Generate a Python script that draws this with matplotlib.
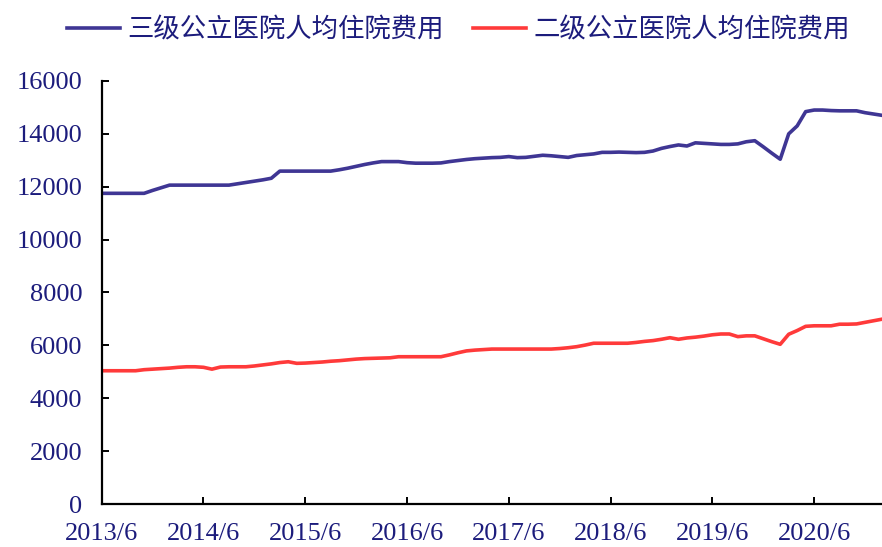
import matplotlib
matplotlib.use('Agg')
import matplotlib.pyplot as plt
import numpy as np

# 月度数据 2013/6 ~ 2021/2
tick_labels = ['2013/6', '2014/6', '2015/6', '2016/6', '2017/6', '2018/6', '2019/6', '2020/6']
series_names = ['三级公立医院人均住院费用', '二级公立医院人均住院费用']

level3 = [11750, 11750, 11750, 11750, 11750, 11750, 11860, 11960, 12060, 12060,
          12060, 12060, 12060, 12060, 12060, 12060, 12110, 12160, 12210, 12260,
          12320, 12590, 12590, 12590, 12590, 12590, 12590, 12590, 12640, 12700,
          12770, 12840, 12900, 12950, 12950, 12950, 12910, 12890, 12890, 12890,
          12900, 12950, 12990, 13030, 13060, 13080, 13100, 13110, 13140, 13100,
          13110, 13150, 13190, 13170, 13140, 13110, 13180, 13210, 13240, 13300,
          13300, 13310, 13300, 13290, 13300, 13350, 13450, 13520, 13580, 13540,
          13660, 13640, 13620, 13600, 13600, 13620, 13700, 13740, 13510, 13270,
          13040, 14000, 14300, 14840, 14900, 14900, 14880, 14870, 14870, 14870,
          14800, 14750, 14700]

level2 = [5040, 5040, 5040, 5040, 5040, 5080, 5100, 5120, 5140, 5170,
          5190, 5190, 5170, 5100, 5180, 5190, 5190, 5190, 5220, 5260,
          5300, 5350, 5380, 5320, 5330, 5350, 5370, 5400, 5420, 5450,
          5480, 5500, 5510, 5520, 5530, 5570, 5570, 5570, 5570, 5570,
          5570, 5640, 5720, 5790, 5820, 5840, 5860, 5860, 5860, 5860,
          5860, 5860, 5860, 5860, 5880, 5910, 5950, 6010, 6080, 6080,
          6080, 6080, 6080, 6110, 6150, 6180, 6230, 6290, 6230, 6280,
          6310, 6350, 6400, 6430, 6430, 6330, 6360, 6360, 6250, 6140,
          6040, 6420, 6560, 6720, 6740, 6740, 6740, 6800, 6800, 6810,
          6870, 6930, 6990]

text_color = '#1c1c7c'
blue = '#3f3694'
red = '#ff3a3a'

fig = plt.figure(figsize=(8.82, 5.47), dpi=100)
ax = fig.add_axes([0.1153, 0.0786, 0.8847, 0.7734])

x = np.arange(len(level3))
l1, = ax.plot(x, level3, color=blue, lw=2.6, solid_joinstyle='round')
l2, = ax.plot(x, level2, color=red, lw=2.6, solid_joinstyle='round')

ax.set_xlim(0, len(level3) - 1)
ax.set_ylim(0, 16000)
ax.set_yticks(np.arange(0, 16001, 2000))
ax.set_xticks(np.arange(len(tick_labels)) * 12)
ax.set_xticklabels(tick_labels)

for s in ['top', 'right']:
    ax.spines[s].set_visible(False)
for s in ['left', 'bottom']:
    ax.spines[s].set_linewidth(1.6)
    ax.spines[s].set_color('black')

ax.tick_params(direction='in', length=5, width=1.4, colors='black',
               labelcolor=text_color, labelsize=19)
ax.tick_params(axis='x', pad=14)
ax.tick_params(axis='y', pad=14)
for lab in ax.get_xticklabels() + ax.get_yticklabels():
    lab.set_family('Liberation Serif')

fig.legend([l1, l2], series_names, loc='center', ncol=2,
           bbox_to_anchor=(0.52, 0.945), frameon=False,
           handlelength=2.0, handletextpad=0.3, columnspacing=1.1,
           prop={'family': ['Noto Sans CJK SC', 'DejaVu Sans'], 'size': 19},
           labelcolor=text_color)

fig.savefig('out.png', dpi=100)
